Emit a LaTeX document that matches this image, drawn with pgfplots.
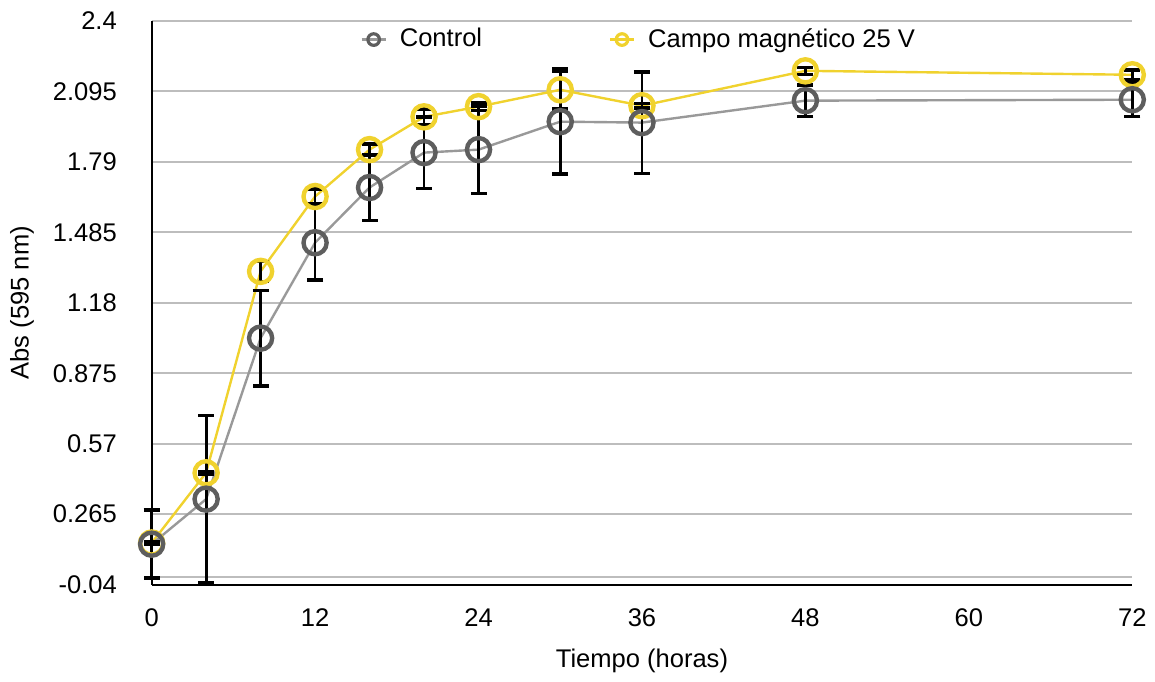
\documentclass[border=0pt]{standalone}
\usepackage{pgfplots}
\pgfplotsset{compat=1.18}
\usepackage{pgfplotstable}
\usepackage{fontspec}
\setmainfont{Liberation Sans}
\definecolor{ctrlline}{HTML}{999999}
\definecolor{ctrlmark}{HTML}{5E5E5E}
\definecolor{campo}{HTML}{F0D22E}
\definecolor{gridc}{HTML}{BDBDBD}

\pgfplotstableread{
x y e
0 0.135 0.147
4 0.330 0.362
8 1.027 0.207
12 1.440 0.162
16 1.679 0.142
20 1.830 0.155
24 1.843 0.190
30 1.964 0.227
36 1.960 0.220
48 2.055 0.069
72 2.059 0.073
}\ctrl

\pgfplotstableread{
x y e
0 0.140 0.005
4 0.444 0.005
8 1.316 0.043
12 1.640 0.032
16 1.843 0.024
20 1.985 0.035
24 2.029 0.017
30 2.102 0.082
36 2.033 0.010
48 2.184 0.015
72 2.167 0.020
}\campo

\newcommand{\ff}{\fontsize{12.8}{15}\selectfont}

\begin{document}
\ff
\begin{tikzpicture}
\begin{axis}[name=ax, scale only axis, width=491.5pt, height=282.5pt,
  clip=false,
  xmin=0, xmax=72, ymin=-0.04, ymax=2.4,
  xtick={0,12,24,36,48,60,72},
  ytick={-0.04,0.265,0.57,0.875,1.18,1.485,1.79,2.095,2.4},
  yticklabels={-0.04,0.265,0.57,0.875,1.18,1.485,1.79,2.095,2.4},
  axis x line*=bottom, axis y line*=left,
  axis line style={line width=1.1pt, black},
  major tick length=0pt,
  ymajorgrids, major grid style={gridc, line width=1pt},
  extra y ticks={-0.005}, extra y tick labels={},
  extra y tick style={grid=major, major grid style={gridc, line width=1pt}},
  tick label style={font=\ff},
  /pgf/number format/assume math mode=true,
  yticklabel style={xshift=-13pt},
  xticklabel style={yshift=-7.5pt},
  xlabel={Tiempo (horas)}, ylabel={Abs (595 nm)},
  label style={font=\ff},
  ylabel style={at={(axis description cs:-0.1322,0.5)}, anchor=center},
  xlabel style={at={(axis description cs:0.5,-0.136)}, anchor=center},
  legend columns=2,
  legend style={at={(0.2126,0.967)}, anchor=west, draw=none, fill=none, inner sep=0pt, font=\ff,
    /tikz/every odd column/.append style={column sep=4.5pt},
    /tikz/every even column/.append style={column sep=61.5pt}},
  legend image code/.code={\draw[#1,mark=none] (0pt,0pt) -- (12pt,0pt); \draw[#1] plot coordinates {(6pt,0pt)};},
]
\addlegendimage{ctrlline, line width=1.2pt, mark=o, mark options={ctrlmark, fill=white, line width=1.6pt, mark size=2.9pt}}
\addlegendentry{Control}
\addlegendimage{campo, line width=1.2pt, mark=o, mark options={campo, fill=white, line width=1.6pt, mark size=2.9pt}}
\addlegendentry{Campo magnético 25 V}

\addplot[campo, line width=1.2pt, mark=o, mark size=5.8pt, mark options={campo, fill=white, line width=2.2pt}, forget plot] table[x=x,y=y]{\campo};
\addplot[ctrlline, line width=1.2pt, mark=o, mark size=5.8pt, mark options={ctrlmark, fill=white, line width=2.2pt}, forget plot] table[x=x,y=y]{\ctrl};

\addplot[draw=none, mark=none, forget plot,
  error bars/.cd, y dir=both, y explicit,
  error bar style={draw=black, solid, line width=1.4pt},
  error mark options={rotate=90, draw=black, mark size=4pt, line width=1.8pt}]
  table[x=x, y=y, y error=e]{\ctrl};
\addplot[draw=none, mark=none, forget plot,
  error bars/.cd, y dir=both, y explicit,
  error bar style={draw=black, solid, line width=1.4pt},
  error mark options={rotate=90, draw=black, mark size=4pt, line width=1.8pt}]
  table[x=x, y=y, y error=e]{\campo};
\end{axis}
\path (ax.south west) ++(-76pt,-45.5pt) coordinate (bbA);
\path (ax.north east) ++(10pt,10.5pt) coordinate (bbB);
\path (bbA) rectangle (bbB);
\end{tikzpicture}
\end{document}
